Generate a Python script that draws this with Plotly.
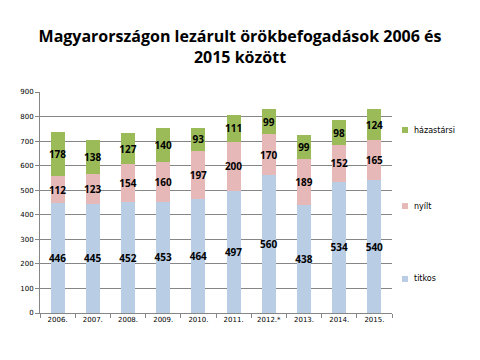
import plotly.graph_objects as go

years = ["2006.", "2007.", "2008.", "2009.", "2010.", "2011.", "2012.*", "2013.", "2014.", "2015."]
titkos = [446, 445, 452, 453, 464, 497, 560, 438, 534, 540]
nyilt = [112, 123, 154, 160, 197, 200, 170, 189, 152, 165]
hazastarsi = [178, 138, 127, 140, 93, 111, 99, 99, 98, 124]

series = [("titkos", titkos, "#B9CDE5"), ("nyílt", nyilt, "#E6B9B8"), ("házastársi", hazastarsi, "#9BBB59")]
legend_y = {"házastársi": 0.828, "nyílt": 0.484, "titkos": 0.154}

fig = go.Figure()
for i, (name, vals, col) in enumerate(series):
    fig.add_trace(go.Bar(
        x=years, y=vals, name=name,
        marker=dict(color=col, line=dict(width=0)),
        text=[str(v) for v in vals], textposition="inside", insidetextanchor="middle",
        textangle=0,
        textfont=dict(family="Open Sans", size=10, color="black", weight="bold"),
        constraintext="none",
    ))
    yc = legend_y[name]
    fig.add_shape(type="rect", xref="paper", yref="paper",
                  x0=1.0284, x1=1.0455, y0=yc - 0.0136, y1=yc + 0.0136,
                  fillcolor=col, line=dict(width=0))
    fig.add_annotation(text=name, xref="paper", yref="paper", x=1.057, y=yc,
                       xanchor="left", yanchor="middle", showarrow=False,
                       font=dict(family="Verdana, DejaVu Sans", size=8, color="black"))

fig.update_layout(
    barmode="stack", bargap=0.6,
    width=472, height=352,
    margin=dict(l=32, r=88, t=84, b=47, autoexpand=False),
    paper_bgcolor="white", plot_bgcolor="white",
    title=dict(text="Magyarországon lezárult örökbefogadások 2006 és<br>2015 között",
               x=0.4915, xanchor="center", y=0.902, yanchor="middle",
               font=dict(family="Open Sans", size=16, color="black", weight="bold")),
    showlegend=False,
    uniformtext=dict(mode=False),
)
fig.update_yaxes(range=[0, 900], dtick=100, showgrid=True, gridcolor="#868686", gridwidth=1,
                 showline=True, linecolor="#868686", ticks="outside", ticklen=4, tickcolor="#868686",
                 tickfont=dict(family="DejaVu Sans", size=7, color="black"), zeroline=False,
                 automargin=False)
fig.update_xaxes(range=[-0.5, 9.5], showline=True, linecolor="#868686", ticks="outside",
                 tickson="boundaries", ticklen=4,
                 tickcolor="#868686", tickfont=dict(family="DejaVu Sans", size=7, color="black"),
                 automargin=False)

fig.write_html("out.html")
